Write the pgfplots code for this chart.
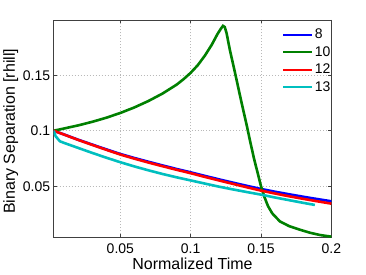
\documentclass[border=0pt]{standalone}
\usepackage{fontspec}
\setmainfont{Liberation Sans}
\usepackage{pgfplots}
\pgfplotsset{compat=1.18}
\definecolor{mgreen}{rgb}{0,0.5,0}
\definecolor{mcyan}{rgb}{0,0.75,0.75}
\definecolor{axgray}{rgb}{0.25,0.25,0.25}
\begin{document}
\begin{tikzpicture}
\begin{axis}[
  scale only axis,
  width=278pt, height=217.3pt,
  xmin=0.0026, xmax=0.2,
  ymin=0.0042, ymax=0.1998,
  xtick={0.05,0.1,0.15,0.2},
  ytick={0.05,0.1,0.15},
  xticklabels={0.05,0.1,0.15,0.2},
  yticklabels={0.05,0.1,0.15},
  tick align=inside,
  tick pos=both,
  major tick length=3pt,
  every tick/.style={axgray, line width=0.6pt},
  axis line style={axgray, line width=0.9pt},
  grid=major,
  major grid style={gray!55, line width=0.6pt, dash pattern=on 0.8pt off 2.2pt},
  ticklabel style={font=\fontsize{14}{16}\selectfont},
  xticklabel style={yshift=-3pt},
  yticklabel style={inner xsep=0pt, xshift=-3.3pt},
  xlabel={Normalized Time},
  ylabel={Binary Separation [rhill]},
  label style={font=\fontsize{16}{18}\selectfont},
  xlabel style={at={(axis description cs:0.5,-0.148)}, anchor=base},
  ylabel style={at={(axis description cs:-0.1396,0.487)}, anchor=base},
  legend style={draw=none, fill=none, at={(rel axis cs:0.822,0.969)}, anchor=north west,
    font=\fontsize{14}{16}\selectfont, row sep=2.3pt, inner sep=0pt,
    nodes={inner xsep=2pt, inner ysep=2pt}},
  legend cell align=left,
  legend image code/.code={\draw[#1, line width=2pt] (0pt,0pt) -- (28.7pt,0pt);},
]
\addplot[blue, line width=2.6pt] coordinates {
(0.0026,0.1000) (0.01,0.0966) (0.02,0.0919) (0.03,0.0875) (0.04,0.0832)
(0.05,0.0790) (0.06,0.0754) (0.07,0.0720) (0.08,0.0687) (0.09,0.0655)
(0.10,0.0625) (0.11,0.0593) (0.12,0.0562) (0.13,0.0532) (0.14,0.0503)
(0.15,0.0475) (0.16,0.0450) (0.17,0.0427) (0.18,0.0405) (0.19,0.0384)
(0.20,0.0364)};
\addlegendentry{8}
\addplot[mgreen, line width=2.6pt] coordinates {
(0.0026,0.1000) (0.01,0.1020) (0.02,0.1048) (0.03,0.1080) (0.04,0.1117)
(0.05,0.1160) (0.06,0.1210) (0.07,0.1268) (0.08,0.1335) (0.09,0.1415)
(0.095,0.1465) (0.10,0.1522) (0.105,0.1590) (0.11,0.1675) (0.115,0.1775)
(0.119,0.1870) (0.1215,0.1920) (0.123,0.1945) (0.1242,0.1935) (0.1255,0.1880)
(0.128,0.1720) (0.1305,0.1580) (0.1326,0.1460) (0.135,0.1320)
(0.1373,0.1190) (0.140,0.1040) (0.142,0.0920) (0.145,0.0750)
(0.148,0.0600) (0.150,0.0500) (0.1525,0.0400) (0.155,0.0320)
(0.158,0.0255) (0.1634,0.0183) (0.170,0.0140) (0.1776,0.0108)
(0.185,0.0080) (0.192,0.0060) (0.200,0.0045)};
\addlegendentry{10}
\addplot[red, line width=2.6pt] coordinates {
(0.0026,0.1000) (0.01,0.0965) (0.02,0.0917) (0.03,0.0872) (0.04,0.0828)
(0.05,0.0785) (0.06,0.0748) (0.07,0.0713) (0.08,0.0680) (0.09,0.0648)
(0.10,0.0617) (0.11,0.0584) (0.12,0.0552) (0.13,0.0521) (0.14,0.0490)
(0.15,0.0460) (0.16,0.0434) (0.17,0.0409) (0.18,0.0386) (0.19,0.0364)
(0.20,0.0343)};
\addlegendentry{12}
\addplot[mcyan, line width=2.6pt] coordinates {
(0.0026,0.1000) (0.004,0.0950) (0.007,0.0905) (0.01,0.0890) (0.02,0.0845)
(0.03,0.0800) (0.04,0.0757) (0.05,0.0716) (0.06,0.0678) (0.07,0.0643)
(0.08,0.0610) (0.09,0.0580) (0.10,0.0552) (0.11,0.0524) (0.12,0.0496)
(0.13,0.0471) (0.14,0.0447) (0.15,0.0424) (0.16,0.0398) (0.17,0.0374)
(0.18,0.0350) (0.1883,0.0331)};
\addlegendentry{13}
\end{axis}
\useasboundingbox ([shift={(-53.3pt,-37.7pt)}]current axis.south west) rectangle ([shift={(34.7pt,20pt)}]current axis.north east);
\end{tikzpicture}
\end{document}
